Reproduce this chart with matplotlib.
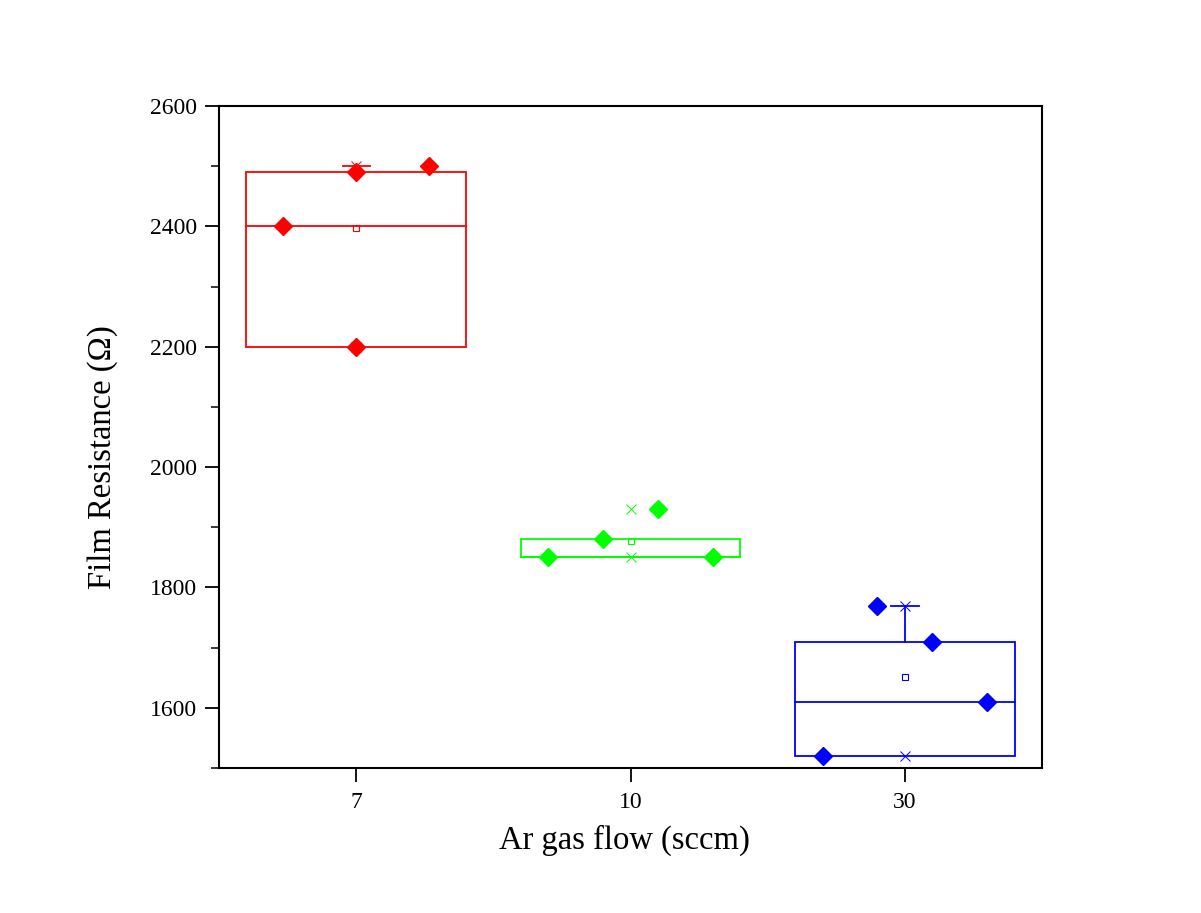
import numpy as np
import matplotlib.pyplot as plt
from matplotlib.ticker import MultipleLocator

plt.rcParams['font.family'] = ['Liberation Serif', 'DejaVu Serif']

# Ar gas flow groups (sccm)
flows = ['7', '10', '30']
colors = ['#ff0000', '#00ff00', '#0000ff']

# Measured film resistance (ohm) and horizontal offsets of the scatter points
points = [
    [2400, 2490, 2500, 2200],
    [1850, 1880, 1930, 1850],
    [1520, 1770, 1710, 1610],
]
offsets = [
    [-0.267, 0.0, 0.267, 0.0],
    [-0.3, -0.1, 0.1, 0.3],
    [-0.3, -0.1, 0.1, 0.3],
]

# Box statistics per group
box_low = [2200, 1850, 1520]
box_high = [2490, 1880, 1710]
medians = [2400, 1850, 1610]
means = [2398, 1878, 1652]
data_max = [2500, 1930, 1770]
data_min = [2200, 1850, 1520]
whisker_top = [2500, None, 1770]

fig = plt.figure(figsize=(12.01, 9.13), dpi=100)
ax = fig.add_axes([0.1824, 0.1588, 0.6852, 0.7251])

box_w = 0.8
cap_w = 0.1
for i, c in enumerate(colors):
    x = i + 1
    # box and median
    ax.add_patch(plt.Rectangle((x - box_w / 2, box_low[i]), box_w, box_high[i] - box_low[i],
                               fill=False, edgecolor=c, lw=1.3, zorder=2))
    ax.plot([x - box_w / 2, x + box_w / 2], [medians[i], medians[i]], color=c, lw=1.3, zorder=2)
    # upper whisker with cap
    if whisker_top[i] is not None:
        ax.plot([x, x], [box_high[i], whisker_top[i]], color=c, lw=1.3, zorder=2)
        ax.plot([x - cap_w / 2, x + cap_w / 2], [whisker_top[i]] * 2, color=c, lw=1.3, zorder=2)
    # mean, max and min markers
    ax.plot(x, means[i], marker='s', ms=5, mfc='none', mec=c, mew=0.8, zorder=3)
    ax.plot([x, x], [data_max[i], data_min[i]], ls='none', marker='x', ms=7, mec=c, mew=0.7, zorder=3)
    # raw data points
    ax.plot(x + np.array(offsets[i]), points[i], ls='none', marker='D', ms=9.5,
            color=c, mec=c, zorder=4)

ax.set_xlim(0.5, 3.5)
ax.set_ylim(1500, 2600)
ax.set_xticks([1, 2, 3])
ax.set_xticklabels(flows)
ax.yaxis.set_major_locator(MultipleLocator(200))
ax.yaxis.set_minor_locator(MultipleLocator(100))
ax.tick_params(axis='both', which='major', direction='out', length=10, width=1.3,
               labelsize=17, top=False, right=False)
ax.tick_params(axis='y', which='minor', direction='out', length=5.5, width=1.1, right=False)
ax.tick_params(axis='x', pad=7)
ax.tick_params(axis='y', pad=6)
for s in ax.spines.values():
    s.set_linewidth(1.5)

ax.set_xlabel('Ar gas flow (sccm)', fontsize=23.5, labelpad=9)
ax.set_ylabel('Film Resistance (Ω)', fontsize=23.5)
ax.yaxis.set_label_coords(-0.123, 0.47)
ax.xaxis.label.set_x(0.493)

fig.savefig('out.png', dpi=100)
